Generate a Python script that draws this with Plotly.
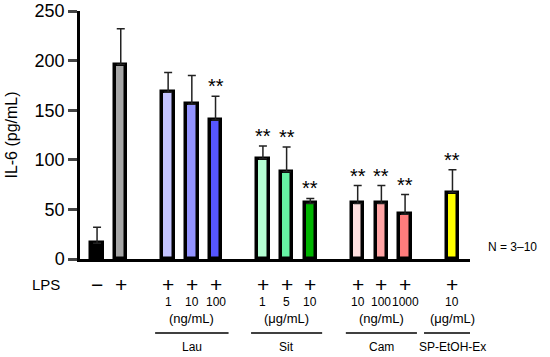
import plotly.graph_objects as go

# posição de cada barra no eixo x (os espaços separam os grupos)
positions = [0, 1, 3, 4, 5, 7, 8, 9, 11, 12, 13, 15]
values = [16, 196, 168, 156, 140, 101, 88, 56, 56, 56, 45, 67]
errors = [16, 36, 20, 29, 24, 13, 25, 5, 18, 18, 20, 23]
colors = ['#000000', '#a6a6a6',
          '#c4c4ff', '#9494ff', '#5656ff',
          '#b4ffd2', '#66f2a4', '#00b400',
          '#ffe0e0', '#ffa4a4', '#ff7c7c',
          '#ffff00']
stars = ['', '', '', '', '**', '**', '**', '**', '**', '**', '**', '**']
lps_signs = ['−', '+', '+', '+', '+', '+', '+', '+', '+', '+', '+', '+']
doses = ['', '', '1', '10', '100', '1', '5', '10', '10', '100', '1000', '10']

groups = ['Lau', 'Sit', 'Cam', 'SP-EtOH-Ex']
group_units = ['(ng/mL)', '(μg/mL)', '(ng/mL)', '(μg/mL)']
group_centers = [4, 8, 12, 15]
group_halfwidth = [1.55, 1.5, 1.5, 1.2]

y_ticks = [0, 50, 100, 150, 200, 250]

font = 'Liberation Sans, Arial, sans-serif'
ink = '#000000'

fig = go.Figure(go.Bar(
    x=positions, y=values, width=0.48,
    marker=dict(color=colors, line=dict(color=ink, width=3.5)),
    error_y=dict(type='data', array=errors, arrayminus=[0] * len(errors),
                 symmetric=False, color='#222222', thickness=1.5, width=4),
))

# asteriscos de significância
for x, v, e, s in zip(positions, values, errors, stars):
    if s:
        fig.add_annotation(x=x, y=v + e, text=s, showarrow=False, xref='x', yref='y',
                           yanchor='bottom', yshift=-3, font=dict(size=20, color=ink))

# linhas de LPS e doses abaixo do eixo
for x, sgn, d in zip(positions, lps_signs, doses):
    fig.add_annotation(x=x, y=-0.101, text=sgn, showarrow=False, xref='x', yref='paper',
                       yanchor='middle', font=dict(size=21, color=ink))
    if d:
        fig.add_annotation(x=x, y=-0.173, text=d, showarrow=False, xref='x', yref='paper',
                           yanchor='middle', font=dict(size=12, color=ink))

fig.add_annotation(x=-0.045, y=-0.101, text='LPS', showarrow=False, xref='paper', yref='paper',
                   yanchor='middle', xanchor='right', font=dict(size=15, color=ink))

for g, u, c, hw in zip(groups, group_units, group_centers, group_halfwidth):
    fig.add_annotation(x=c, y=-0.238, text=u, showarrow=False, xref='x', yref='paper',
                       yanchor='middle', font=dict(size=13, color=ink))
    fig.add_shape(type='line', xref='x', yref='paper', x0=c - hw, x1=c + hw,
                  y0=-0.298, y1=-0.298, line=dict(color=ink, width=1.5))
    fig.add_annotation(x=c, y=-0.355, text=g, showarrow=False, xref='x', yref='paper',
                       yanchor='middle', font=dict(size=12, color=ink))

fig.add_annotation(x=1.177, y=0.05, text='N = 3–10', showarrow=False, xref='paper', yref='paper',
                   xanchor='right', yanchor='middle', font=dict(size=12, color=ink))

fig.update_layout(
    width=550, height=357,
    margin=dict(l=80, r=80, t=11, b=98, autoexpand=False),
    plot_bgcolor='white', paper_bgcolor='white',
    font=dict(family=font, color=ink),
    showlegend=False,
    bargap=0,
)
fig.update_xaxes(range=[-0.72, 15.74], showline=True, linecolor=ink, linewidth=2.5,
                 showticklabels=False, ticks='', showgrid=False, zeroline=False,
                 automargin=False)
fig.update_yaxes(range=[0, 250], tickvals=y_ticks, showline=True, linecolor=ink,
                 linewidth=2.5, ticks='outside', ticklen=9, tickwidth=2.5,
                 tickfont=dict(size=18), showgrid=False, zeroline=False, automargin=False,
                 title=dict(text='IL-6 (pg/mL)', font=dict(size=16), standoff=14))

# tira a margem padrão do <body> para o gráfico ocupar a janela inteira
fig.write_html('out.html', config={'displayModeBar': False},
               post_script="document.body.style.margin='0';")
